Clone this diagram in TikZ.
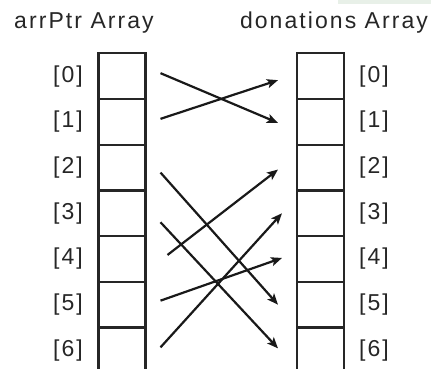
\documentclass[tikz,border=0pt]{standalone}
\usepackage{fontspec}
\setmainfont{Liberation Sans}
\newfontfamily\arrfont[LetterSpace=9]{Liberation Sans}
\usepackage{tikz}
\usetikzlibrary{positioning,calc,arrows.meta}

\begin{document}
\begin{tikzpicture}[
    x=1pt, y=-1pt,
    every node/.style={font=\arrfont\fontsize{23}{25}\selectfont, text=black!85},
    cell/.style={draw=black!85, line width=2.2pt, minimum width=47pt, minimum height=45.7pt,
                 inner sep=0pt, outer sep=0pt},
    idx/.style={inner sep=0pt},
    ptrarrow/.style={draw=black!90, line width=2.2pt,
                     -{Stealth[length=11pt, width=9pt, inset=2.5pt]}},
]
\clip (0,0) rectangle (431,368);

% light strip left over at the top edge
\fill[green!20!gray!15] (338,0) rectangle (431,3.5);

% =====================================================================
% Titles
% =====================================================================
\node[anchor=base] (ptrtitle) at (84,28) {arrPtr Array};
\node[anchor=base] (dontitle) at (334,28) {donations Array};

% =====================================================================
% The two arrays, one cell per element
% =====================================================================
\foreach \i in {0,...,6} {
    \pgfmathsetmacro{\yc}{53.3+45.7*(\i+0.5)}
    \node[cell] (ptr\i) at (122,\yc) {};
    \node[idx] (ptrlab\i) at (68,\yc) {[\i]};
    \node[cell] (don\i) at (320.5,\yc) {};
    \node[idx] (donlab\i) at (374,\yc) {[\i]};
}

% =====================================================================
% Pointers: arrPtr[i] -> donations[j]
% =====================================================================
\draw[ptrarrow] ([xshift=15pt, yshift=3pt]ptr0.east) -- ([xshift=-19pt, yshift=-1pt]don1.west);
\draw[ptrarrow] ([xshift=15pt, yshift=3pt]ptr1.east) -- ([xshift=-19pt, yshift=-4pt]don0.west);
\draw[ptrarrow] ([xshift=15pt, yshift=-5pt]ptr2.east) -- ([xshift=-19pt]don5.west);
\draw[ptrarrow] ([xshift=15pt, yshift=-9pt]ptr3.east) -- ([xshift=-19pt, yshift=2pt]don6.west);
\draw[ptrarrow] ([xshift=22pt, yshift=4pt]ptr4.east) -- ([xshift=-19pt, yshift=-2pt]don2.west);
\draw[ptrarrow] ([xshift=15pt, yshift=4pt]ptr5.east) -- ([xshift=-15pt, yshift=1pt]don4.west);
\draw[ptrarrow] ([xshift=15pt, yshift=3pt]ptr6.east) -- ([xshift=-15pt]don3.west);

\end{tikzpicture}
\end{document}
